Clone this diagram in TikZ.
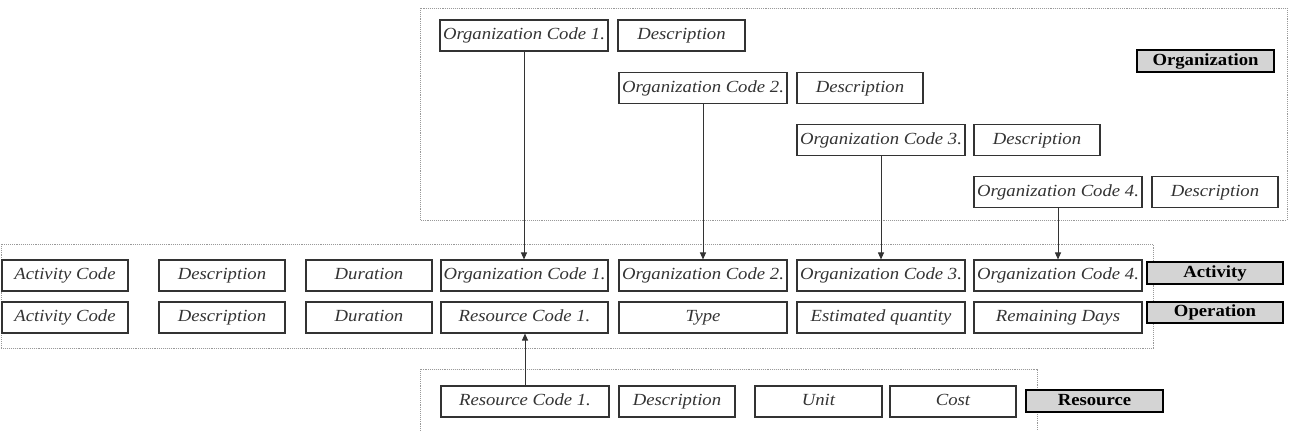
\documentclass[tikz,border=0pt]{standalone}
\usepackage{fontspec}
\setmainfont{Liberation Serif}
\newfontfamily\fieldfont{Liberation Serif}[FakeStretch=1.1]
\usetikzlibrary{arrows.meta}
\definecolor{ink}{HTML}{333333}
\definecolor{lblfill}{HTML}{D4D4D4}
\tikzset{
  fld/.style={draw=ink, line width=1.1pt, inner sep=0pt, minimum height=31pt,
    text height=11.5pt, text depth=3.5pt,
    font=\fieldfont\fontsize{17}{19}\selectfont\itshape, text=ink},
  lbl/.style={draw=black, line width=2pt, fill=lblfill, inner sep=0pt, minimum height=22pt,
    text height=11.5pt, text depth=3.5pt,
    font=\fieldfont\fontsize{17}{19}\selectfont\bfseries, text=black},
  grp/.style={draw=gray!80, line width=0.9pt, densely dotted},
  arr/.style={draw=ink, line width=1pt, -{Triangle[length=7pt,width=6pt]}}
}
\begin{document}
\begin{tikzpicture}[x=1pt,y=-1pt]
\useasboundingbox (0,0) rectangle (1291,431);
% group boxes
\draw[grp] (420,8) rectangle (1287,220);
\draw[grp] (1,244) rectangle (1153,348);
\draw[grp] (420,431) -- (420,369) -- (1037,369) -- (1037,431);
% organization
\node[fld, minimum width=168pt] (o1) at (524,35.5) {Organization Code 1.};
\node[fld, minimum width=127pt] (od1) at (681.5,35.5) {Description};
\node[fld, minimum width=168pt] (o2) at (703,88) {Organization Code 2.};
\node[fld, minimum width=126pt] (od2) at (860,88) {Description};
\node[fld, minimum width=168pt] (o3) at (881,140) {Organization Code 3.};
\node[fld, minimum width=126pt] (od3) at (1037,140) {Description};
\node[fld, minimum width=168pt] (o4) at (1058,192) {Organization Code 4.};
\node[fld, minimum width=126pt] (od4) at (1215,192) {Description};
\node[lbl, minimum width=137pt] (orgl) at (1205.5,61) {Organization};
% activity
\node[fld, minimum width=126pt] (a1) at (65,275.5) {Activity Code};
\node[fld, minimum width=126pt] (a2) at (222,275.5) {Description};
\node[fld, minimum width=126pt] (a3) at (369,275.5) {Duration};
\node[fld, minimum width=167pt] (a4) at (524.5,275.5) {Organization Code 1.};
\node[fld, minimum width=168pt] (a5) at (703,275.5) {Organization Code 2.};
\node[fld, minimum width=168pt] (a6) at (881,275.5) {Organization Code 3.};
\node[fld, minimum width=168pt] (a7) at (1058,275.5) {Organization Code 4.};
\node[lbl, minimum width=136pt] (actl) at (1215,273) {Activity};
% operation
\node[fld, minimum width=126pt] (p1) at (65,317.5) {Activity Code};
\node[fld, minimum width=126pt] (p2) at (222,317.5) {Description};
\node[fld, minimum width=126pt] (p3) at (369,317.5) {Duration};
\node[fld, minimum width=167pt] (p4) at (524.5,317.5) {Resource Code 1.};
\node[fld, minimum width=168pt] (p5) at (703,317.5) {Type};
\node[fld, minimum width=168pt] (p6) at (881,317.5) {Estimated quantity};
\node[fld, minimum width=168pt] (p7) at (1058,317.5) {Remaining Days};
\node[lbl, minimum width=136pt, minimum height=21pt] (opl) at (1215,312.5) {Operation};
% resource
\node[fld, minimum width=168pt] (r1) at (525,401.5) {Resource Code 1.};
\node[fld, minimum width=116pt] (r2) at (677,401.5) {Description};
\node[fld, minimum width=127pt] (r3) at (818.5,401.5) {Unit};
\node[fld, minimum width=126pt] (r4) at (953,401.5) {Cost};
\node[lbl, minimum width=137pt] (resl) at (1094.5,401) {Resource};
% connectors
\draw[arr] (o1.south) -- (o1.south |- a4.north);
\draw[arr] (o2.south) -- (o2.south |- a5.north);
\draw[arr] (o3.south) -- (o3.south |- a6.north);
\draw[arr] (o4.south) -- (o4.south |- a7.north);
\draw[arr] (r1.north) -- (r1.north |- p4.south);
\end{tikzpicture}
\end{document}
